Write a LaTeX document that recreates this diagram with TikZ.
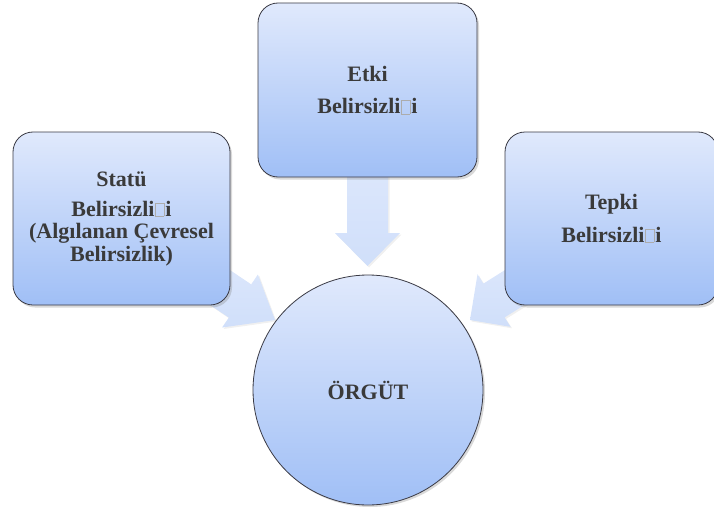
\documentclass[tikz,border=0pt]{standalone}
\usepackage{fontspec}
\setmainfont{Liberation Serif}
\usetikzlibrary{shadows}
\definecolor{boxtop}{RGB}{224,233,252}
\definecolor{boxbot}{RGB}{160,191,246}
\definecolor{arrowtop}{RGB}{222,232,252}
\definecolor{arrowbot}{RGB}{208,223,250}
\definecolor{edgecol}{RGB}{58,58,68}
\definecolor{txtcol}{RGB}{58,58,58}
\newcommand\nobox{\hspace{1pt}\textcolor{gray!65}{\fboxsep=0pt\fboxrule=0.5pt\fbox{\rule{0pt}{13pt}\hspace{8pt}}}\hspace{1pt}}
\begin{document}
\begin{tikzpicture}[x=1pt,y=-1pt,
  blockbox/.style={draw=edgecol, line width=0.8pt, rounded corners=20pt,
    top color=boxtop, bottom color=boxbot, inner sep=0pt, align=center,
    text=txtcol, font=\fontsize{22}{22.5}\selectfont\bfseries,
    drop shadow={shadow xshift=2pt,shadow yshift=-2.5pt,opacity=0.3}},
  roundbox/.style={circle, draw=edgecol, line width=0.8pt,
    top color=boxtop, bottom color=boxbot, inner sep=0pt, align=center,
    text=txtcol, font=\fontsize{22}{22.5}\selectfont\bfseries,
    drop shadow={shadow xshift=2pt,shadow yshift=-2pt,opacity=0.3}},
  blockarrow/.style={draw=none, top color=arrowtop, bottom color=arrowbot,
    drop shadow={shadow xshift=1.5pt,shadow yshift=-1.5pt,opacity=0.12}}
]
\useasboundingbox (0,0) rectangle (714,508);

% block arrows (behind the boxes)
\path[blockarrow] (347,150) -- (347,233) -- (335,233) -- (367.5,266)
  -- (400,233) -- (388,233) -- (388,150) -- cycle;
\path[blockarrow] (179.1,284.1) -- (228.8,317.6) -- (222.1,327.5) -- (275,320)
  -- (257.9,274.5) -- (251.2,284.4) -- (201.5,250.9) -- cycle;
\path[blockarrow] (555.4,285.5) -- (504.6,317.4) -- (510.5,326.8) -- (470,320)
  -- (477.5,274.2) -- (483.4,283.6) -- (534.2,251.7) -- cycle;

% boxes
\node[blockbox, minimum width=217pt, minimum height=173pt] (statu) at (121.5,218.5)
  {Statü\\[7.5pt]Belirsizli\nobox{}i\\(Algılanan Çevresel\\Belirsizlik)};
\node[blockbox, minimum width=219pt, minimum height=174pt] (etki) at (367.5,90)
  {Etki\\[10pt]Belirsizli\nobox{}i};
\node[blockbox, minimum width=213pt, minimum height=173pt] (tepki) at (611.5,218.5)
  {Tepki\\[10pt]Belirsizli\nobox{}i};

% organisation
\node[roundbox, minimum size=230pt] (orgut) at (368,390) {ÖRGÜT};
\end{tikzpicture}
\end{document}
